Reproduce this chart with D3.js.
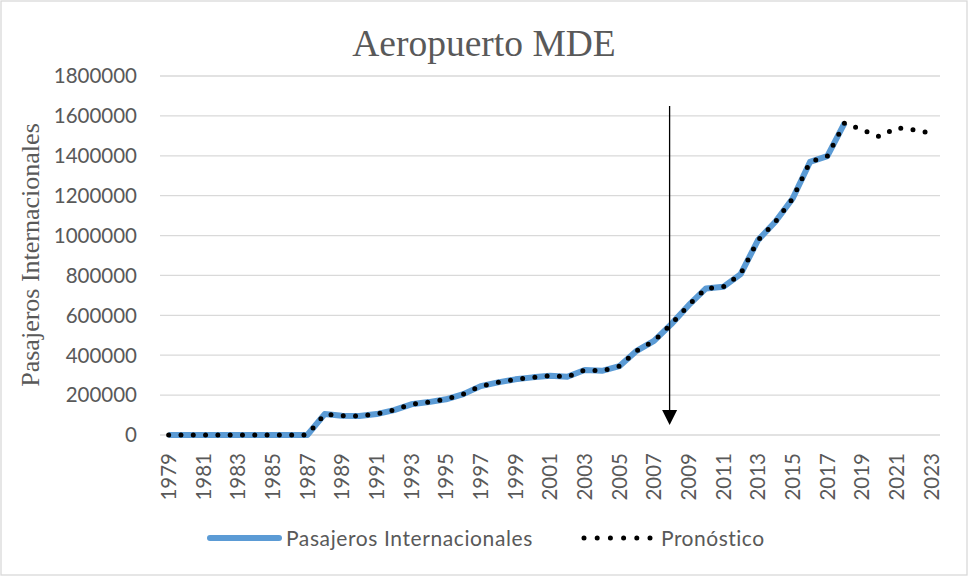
<!DOCTYPE html>
<html>
<head>
<meta charset="utf-8">
<script src="https://cdn.jsdelivr.net/npm/d3@7"></script>
<style>
  body { margin: 0; background: #fff; }
  svg { display: block; }
</style>
</head>
<body>
<script>
// Years on the category axis (every year, labels every 2nd)
var years = d3.range(1979, 2024).map(String);

// Historical international passengers 1979-2018
var histYears = d3.range(1979, 2019).map(String);
var histValues = [0, 0, 0, 0, 0, 0, 0, 0, 0, 105000,
                  97000, 95000, 105000, 125000, 154000, 165000, 179000, 205000, 245000, 264000,
                  279000, 289000, 297000, 292000, 326000, 322000, 345000, 422000, 472000, 556000,
                  651000, 735000, 743000, 807000, 977000, 1069000, 1186000, 1369000, 1398000, 1565000];

// Forecast continues after 2018
var fcYears = ["2019", "2020", "2021", "2022", "2023"];
var fcValues = [1530000, 1496000, 1541000, 1530000, 1513000];

var yTicks = [0, 200000, 400000, 600000, 800000, 1000000, 1200000, 1400000, 1600000, 1800000];

// Vertical arrow annotation (between 2007 and 2008)
var arrowYear = "2007";
var arrowFrac = 0.9;
var arrowTop = 1650000;
var arrowTip = 50000;

var width = 969, height = 577;
var margin = {left: 160, right: 29, top: 76, bottom: 142};

var svg = d3.select("body").append("svg")
    .attr("width", width)
    .attr("height", height);

// chart frame
svg.append("rect")
   .attr("x", 1).attr("y", 1)
   .attr("width", width - 3).attr("height", height - 3)
   .attr("fill", "#fff")
   .attr("stroke", "#d9d9d9")
   .attr("stroke-width", 1.3);

var x = d3.scaleBand().domain(years).range([margin.left, width - margin.right]).padding(0);
var xc = function(d) { return x(d) + x.bandwidth() / 2; };
var y = d3.scaleLinear().domain([0, 1800000]).range([height - margin.bottom, margin.top]);

var sans = "Lato, 'Open Sans', sans-serif";
var serif = "'Liberation Serif', 'Times New Roman', serif";

// gridlines
svg.append("g").selectAll("line")
   .data(yTicks).enter().append("line")
   .attr("x1", margin.left).attr("x2", width - margin.right)
   .attr("y1", function(d) { return y(d); })
   .attr("y2", function(d) { return y(d); })
   .attr("stroke", "#d9d9d9")
   .attr("stroke-width", 1.3);

// y tick labels
svg.append("g").selectAll("text")
   .data(yTicks).enter().append("text")
   .attr("x", 137)
   .attr("y", function(d) { return y(d); })
   .attr("dy", "0.36em")
   .attr("text-anchor", "end")
   .style("font-family", sans)
   .style("font-size", "20.5px")
   .style("fill", "#595959")
   .text(function(d) { return d; });

// x tick labels, every 2nd year, rotated
svg.append("g").selectAll("text")
   .data(years.filter(function(d, i) { return i % 2 === 0; }))
   .enter().append("text")
   .attr("transform", function(d) { return "translate(" + xc(d) + ",453) rotate(-90)"; })
   .attr("dy", "0.36em")
   .attr("text-anchor", "end")
   .style("font-family", sans)
   .style("font-size", "20.5px")
   .style("fill", "#595959")
   .text(function(d) { return d; });

// title
svg.append("text")
   .attr("x", 484).attr("y", 56)
   .attr("text-anchor", "middle")
   .style("font-family", serif)
   .style("font-size", "37.5px")
   .style("fill", "#595959")
   .text("Aeropuerto MDE");

// y axis title
svg.append("text")
   .attr("transform", "translate(39," + 255 + ") rotate(-90)")
   .attr("text-anchor", "middle")
   .style("font-family", serif)
   .style("font-size", "26px")
   .style("fill", "#595959")
   .text("Pasajeros Internacionales");

var line = d3.line()
    .x(function(d) { return xc(d.year); })
    .y(function(d) { return y(d.value); });

var hist = histYears.map(function(d, i) { return {year: d, value: histValues[i]}; });
var forecast = hist.concat(fcYears.map(function(d, i) { return {year: d, value: fcValues[i]}; }));

// blue historical line
svg.append("path")
   .datum(hist)
   .attr("d", line)
   .attr("fill", "none")
   .attr("stroke", "#5b9bd5")
   .attr("stroke-width", 6)
   .attr("stroke-linejoin", "round");

// dotted forecast line
svg.append("path")
   .datum(forecast)
   .attr("d", line)
   .attr("fill", "none")
   .attr("stroke", "#000")
   .attr("stroke-width", 5)
   .attr("stroke-linecap", "round")
   .attr("stroke-dasharray", "0 12.3");

// arrow
var ax = xc(arrowYear) + x.bandwidth() * arrowFrac;
svg.append("line")
   .attr("x1", ax).attr("x2", ax)
   .attr("y1", y(arrowTop)).attr("y2", y(arrowTip) - 12)
   .attr("stroke", "#000")
   .attr("stroke-width", 1.3);
svg.append("path")
   .attr("d", "M" + (ax - 7.5) + "," + (y(arrowTip) - 15) + "L" + (ax + 7.5) + "," + (y(arrowTip) - 15) +
              "L" + ax + "," + y(arrowTip) + "Z")
   .attr("fill", "#000");

// legend
var legend = svg.append("g");
legend.append("line")
   .attr("x1", 210).attr("x2", 279).attr("y1", 538).attr("y2", 538)
   .attr("stroke", "#5b9bd5").attr("stroke-width", 6).attr("stroke-linecap", "round");
legend.append("text")
   .attr("x", 286).attr("y", 546)
   .style("font-family", sans)
   .style("font-size", "21px")
   .style("letter-spacing", "0.6px")
   .style("fill", "#595959")
   .text("Pasajeros Internacionales");
legend.append("line")
   .attr("x1", 584).attr("x2", 652).attr("y1", 538).attr("y2", 538)
   .attr("stroke", "#000").attr("stroke-width", 5)
   .attr("stroke-linecap", "round").attr("stroke-dasharray", "0 13.2");
legend.append("text")
   .attr("x", 661).attr("y", 546)
   .style("font-family", sans)
   .style("font-size", "21px")
   .style("letter-spacing", "0.5px")
   .style("fill", "#595959")
   .text("Pronóstico");
</script>
</body>
</html>
